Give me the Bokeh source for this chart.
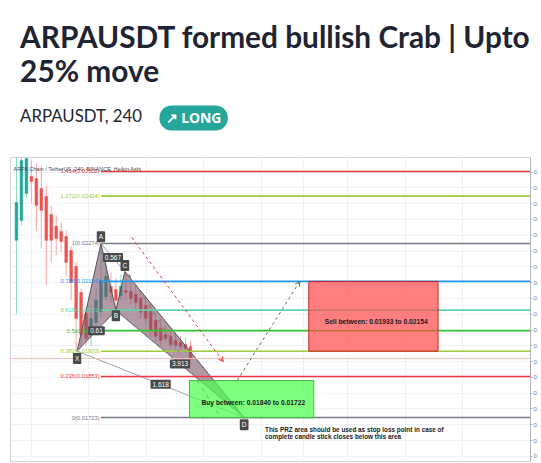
from bokeh.plotting import figure
from bokeh.models import Range1d, FixedTicker, Label, Arrow, OpenHead, Span
from bokeh.layouts import column
from bokeh.embed import file_html
from bokeh.resources import INLINE
from bokeh.core.properties import value

# ---------------- texts ----------------
title_lines = ["ARPAUSDT formed bullish Crab | Upto", "25% move"]
subtitle = "ARPAUSDT, 240"
badge_text = "\u2197 LONG"
chart_caption = "ARPA Chain / TetherUS, 240, BINANCE, Heikin Ashi"

# ---------------- Heikin Ashi candles (bar index) ----------------
bars = list(range(36))
opens = [0.02284, 0.02347, 0.02432, 0.02486, 0.02480, 0.02448, 0.02423, 0.02366, 0.02328, 0.02312,
         0.02296, 0.02252, 0.02201, 0.02119, 0.02052, 0.02011, 0.02024, 0.02059, 0.02106, 0.02138,
         0.02128, 0.02109, 0.02125, 0.02122, 0.02113, 0.02100, 0.02078, 0.02059, 0.02030, 0.02005,
         0.01986, 0.01980, 0.01967, 0.01961, 0.01954, 0.01948]
closes = [0.02404, 0.02537, 0.02543, 0.02470, 0.02394, 0.02379, 0.02284, 0.02284, 0.02290, 0.02280,
          0.02214, 0.02151, 0.02037, 0.01986, 0.01973, 0.02037, 0.02094, 0.02157, 0.02170, 0.02119,
          0.02094, 0.02138, 0.02119, 0.02100, 0.02087, 0.02056, 0.02037, 0.01999, 0.01980, 0.01967,
          0.01973, 0.01954, 0.01951, 0.01948, 0.01942, 0.01910]
highs = [0.02546, 0.02546, 0.02546, 0.02537, 0.02527, 0.02521, 0.02458, 0.02394, 0.02363, 0.02341,
         0.02315, 0.02265, 0.02214, 0.02132, 0.02075, 0.02078, 0.02132, 0.02274, 0.02214, 0.02182,
         0.02163, 0.02176, 0.02185, 0.02157, 0.02144, 0.02125, 0.02106, 0.02087, 0.02056, 0.02037,
         0.02014, 0.02002, 0.01992, 0.01980, 0.01976, 0.01967]
lows = [0.02052, 0.02331, 0.02417, 0.02401, 0.02315, 0.02258, 0.02141, 0.02214, 0.02236, 0.02246,
        0.02170, 0.02094, 0.01933, 0.01942, 0.01950, 0.01948, 0.01980, 0.02037, 0.02094, 0.02087,
        0.02062, 0.02094, 0.02100, 0.02081, 0.02062, 0.02037, 0.02011, 0.01980, 0.01961, 0.01951,
        0.01961, 0.01942, 0.01935, 0.01935, 0.01929, 0.01904]

# ---------------- Fibonacci levels ----------------
fib_levels = ["0", "0.236", "0.382", "0.5", "0.618", "0.786", "1", "1.272", "1.414"]
fib_prices = [0.01723, 0.01853, 0.01933, 0.01998, 0.02063, 0.02154, 0.02274, 0.02424, 0.02502]
fib_colors = ["#787b86", "#f23645", "#9ccc3a", "#2fc42f", "#5fd3a6", "#2196f3", "#787b86", "#9ccc3a", "#e53935"]
fib_start_bar = 17

# ---------------- Crab pattern XABCD ----------------
pt_names = ["X", "A", "B", "C", "D"]
pt_bars = [12.2, 17.0, 20.0, 21.8, 45.8]
pt_prices = [0.01933, 0.02274, 0.02062, 0.02185, 0.01723]
ratio_texts = ["0.61", "0.567", "3.913", "1.618"]     # on X-B, A-C, B-D, X-D

# zones
buy_zone = [0.01722, 0.01840]
buy_bars = [34.8, 59.8]
sell_zone = [0.01933, 0.02154]
sell_bars = [58.8, 84.8]
buy_text = "Buy between: 0.01840 to 0.01722"
sell_text = "Sell between: 0.01933 to 0.02154"
prz_text = ["This PRZ area should be used as stop loss point in case of",
            "complete candle stick closes below this area"]

# projections
red_proj_bars = [23.2, 41.6]
red_proj_prices = [0.02293, 0.01900]
green_proj_bars = [44.4, 57.0]
green_proj_prices = [0.01840, 0.02154]
gray_proj_bars = [21.6, 41.0]
gray_proj_prices = [0.02201, 0.01726]

current_price = 0.01910
price_tag = "0."
countdown_tag = "02"

price_ticks = [0.0160, 0.0165, 0.0170, 0.0175, 0.0180, 0.0185, 0.0190, 0.0195, 0.0200,
               0.0205, 0.0210, 0.0215, 0.0220, 0.0225, 0.0230, 0.0235, 0.0240, 0.0245, 0.0250]
time_grid = [3.0, 14.4, 26.2, 37.6, 49.2, 57.8, 66.6, 78.2, 89.8]

FONT_NAME = "Liberation Sans"
FONT = value(FONT_NAME)
HEAD_FONT = value("Lato")

# ================= header =================
h = figure(width=541, height=155, x_range=Range1d(0, 541), y_range=Range1d(155, 0),
           output_backend="svg", toolbar_location=None, x_axis_location=None,
           y_axis_location=None, min_border=0)
h.outline_line_color = None
h.grid.visible = False
h.text(x=[10, 10], y=[36, 70], text=title_lines, text_font=HEAD_FONT,
       text_font_style="bold", text_font_size="29.8px", text_color="#1f2433",
       text_baseline="alphabetic")
h.text(x=[10], y=[115], text=[subtitle], text_font=HEAD_FONT,
       text_font_size="16.8px", text_color="#1f2433", text_baseline="alphabetic")
h.quad(left=[155], right=[226], top=[105], bottom=[130], fill_color="#26a69a",
       line_color=None, border_radius=12)
h.text(x=[190.5], y=[117], text=[badge_text], text_font=value("Noto Sans"),
       text_font_style="bold", text_font_size="14px", text_color="white",
       text_align="center", text_baseline="middle")

# ================= chart =================
p = figure(width=541, height=308, x_range=Range1d(-1.2, 103.4),
           y_range=Range1d(0.015837, 0.025463), output_backend="svg",
           toolbar_location=None, y_axis_location="right",
           min_border_left=10, min_border_right=0, min_border_top=2, min_border_bottom=2)
p.background_fill_color = "white"
p.outline_line_color = "#d1d4dc"
p.xaxis.visible = False
p.xgrid.ticker = FixedTicker(ticks=time_grid)
p.ygrid.ticker = FixedTicker(ticks=price_ticks)
p.grid.grid_line_color = "#eef1f7"
p.grid.grid_line_width = 1

ax = p.yaxis[0]
ax.ticker = FixedTicker(ticks=price_ticks)
ax.major_label_overrides = {t: "0." for t in price_ticks}
ax.axis_line_color = "#b2b5be"
ax.major_tick_line_color = "#b2b5be"
ax.major_tick_out = 2
ax.major_tick_in = 0
ax.minor_tick_line_color = None
ax.major_label_standoff = 1
ax.major_label_text_font_size = "6px"
ax.major_label_text_color = "#787b86"
ax.major_label_text_font = FONT_NAME

# candles
up = [c > o for o, c in zip(opens, closes)]
body_col = ["#26a69a" if u else "#ef5350" for u in up]
wick_col = ["#86dcc0" if u else "#f5a5a5" for u in up]
p.segment(x0=bars, y0=lows, x1=bars, y1=highs, line_color=wick_col, line_width=1)
p.vbar(x=bars, top=[max(o, c) for o, c in zip(opens, closes)],
       bottom=[min(o, c) for o, c in zip(opens, closes)], width=0.55,
       fill_color=body_col, line_color=body_col, line_width=0.5)

# pattern fill
X, A, B, C, D = range(5)
p.patches(xs=[[pt_bars[X], pt_bars[A], pt_bars[B]], [pt_bars[B], pt_bars[C], pt_bars[D]]],
          ys=[[pt_prices[X], pt_prices[A], pt_prices[B]], [pt_prices[B], pt_prices[C], pt_prices[D]]],
          fill_color="#7a5065", fill_alpha=0.58, line_color="#555555", line_width=1)
pairs = [(X, B), (A, C), (B, D), (X, D)]
p.segment(x0=[pt_bars[a] for a, b in pairs], y0=[pt_prices[a] for a, b in pairs],
          x1=[pt_bars[b] for a, b in pairs], y1=[pt_prices[b] for a, b in pairs],
          line_color="#8a8a8a", line_width=0.8)

# Fibonacci lines
p.segment(x0=[fib_start_bar] * len(fib_prices), y0=fib_prices,
          x1=[110] * len(fib_prices), y1=fib_prices, line_color=fib_colors, line_width=1.6)
fib_labels = [f"{lv}({pr:.5f})" for lv, pr in zip(fib_levels, fib_prices)]
p.text(x=[fib_start_bar - 0.25] * len(fib_prices), y=fib_prices, text=fib_labels,
       text_color=fib_colors, text_font=FONT, text_font_size="5.8px",
       text_align="right", text_baseline="middle")

# current price line
p.add_layout(Span(location=current_price, dimension="width", line_color="#f8bcbc", line_width=1))

# gray projection
p.line(x=gray_proj_bars, y=gray_proj_prices, line_color="#8c8c8c", line_width=1.4, line_dash="4 5")

# zones
p.quad(left=[sell_bars[0]], right=[sell_bars[1]], bottom=[sell_zone[0]], top=[sell_zone[1]],
       fill_color="#ff4d4d", fill_alpha=0.72, line_color="#c62828", line_width=1)
p.quad(left=[buy_bars[0]], right=[buy_bars[1]], bottom=[buy_zone[0]], top=[buy_zone[1]],
       fill_color="#4cff4c", fill_alpha=0.72, line_color="#4caf50", line_width=1)
p.text(x=[buy_bars[0] + 2.4], y=[0.01772], text=[buy_text], text_font=FONT,
       text_font_style="bold", text_font_size="6.7px", text_color="#1a1a1a", text_baseline="middle")
p.text(x=[sell_bars[0] + 3.2], y=[0.02027], text=[sell_text], text_font=FONT,
       text_font_style="bold", text_font_size="6.7px", text_color="#1a1a1a", text_baseline="middle")
p.text(x=[50, 50], y=[0.01686, 0.01664], text=prz_text, text_font=FONT,
       text_font_style="bold", text_font_size="6.4px", text_color="#1a1a1a", text_baseline="middle")

# projection arrows
p.add_layout(Arrow(end=OpenHead(size=5, line_color="#e53935", line_width=1),
                   x_start=red_proj_bars[0], y_start=red_proj_prices[0],
                   x_end=red_proj_bars[1], y_end=red_proj_prices[1],
                   line_color="#e53935", line_width=1, line_dash="3 3"))
p.add_layout(Arrow(end=OpenHead(size=5, line_color="#4f7f4f", line_width=1),
                   x_start=green_proj_bars[0], y_start=green_proj_prices[0],
                   x_end=green_proj_bars[1], y_end=green_proj_prices[1],
                   line_color="#4f7f4f", line_width=1, line_dash="3 3"))

# point labels
offs = [-0.00023, 0.00021, -0.00017, 0.00019, -0.00023]
for nm, bx, pr, off in zip(pt_names, pt_bars, pt_prices, offs):
    p.add_layout(Label(x=bx, y=pr + off, text=nm, text_font=FONT_NAME, text_font_size="6.5px",
                       text_color="white", text_align="center", text_baseline="middle",
                       background_fill_color="#4a4a4a", padding=2, border_radius=1))
for txt, (a, b) in zip(ratio_texts, pairs):
    p.add_layout(Label(x=(pt_bars[a] + pt_bars[b]) / 2, y=(pt_prices[a] + pt_prices[b]) / 2,
                       text=txt, text_font=FONT_NAME, text_font_size="6.5px", text_color="white",
                       text_align="center", text_baseline="middle",
                       background_fill_color="#4a4a4a", padding=2, border_radius=1))

# caption and price tags
p.add_layout(Label(x=-0.6, y=0.02511, text=chart_caption, text_font=FONT_NAME, text_font_size="5.5px",
                   text_color="#4a4a4a", text_baseline="middle"))
p.add_layout(Label(x=103.4, y=0.01888, text=price_tag, text_font=FONT_NAME, text_font_size="5.5px",
                   text_color="white", text_baseline="middle", background_fill_color="#f23645",
                   padding=1))
p.add_layout(Label(x=103.4, y=0.01857, text=countdown_tag, text_font=FONT_NAME, text_font_size="5.5px",
                   text_color="white", text_baseline="middle", background_fill_color="#f23645",
                   padding=1))

layout = column(h, p)
open("out.html", "w").write(file_html(layout, INLINE))
